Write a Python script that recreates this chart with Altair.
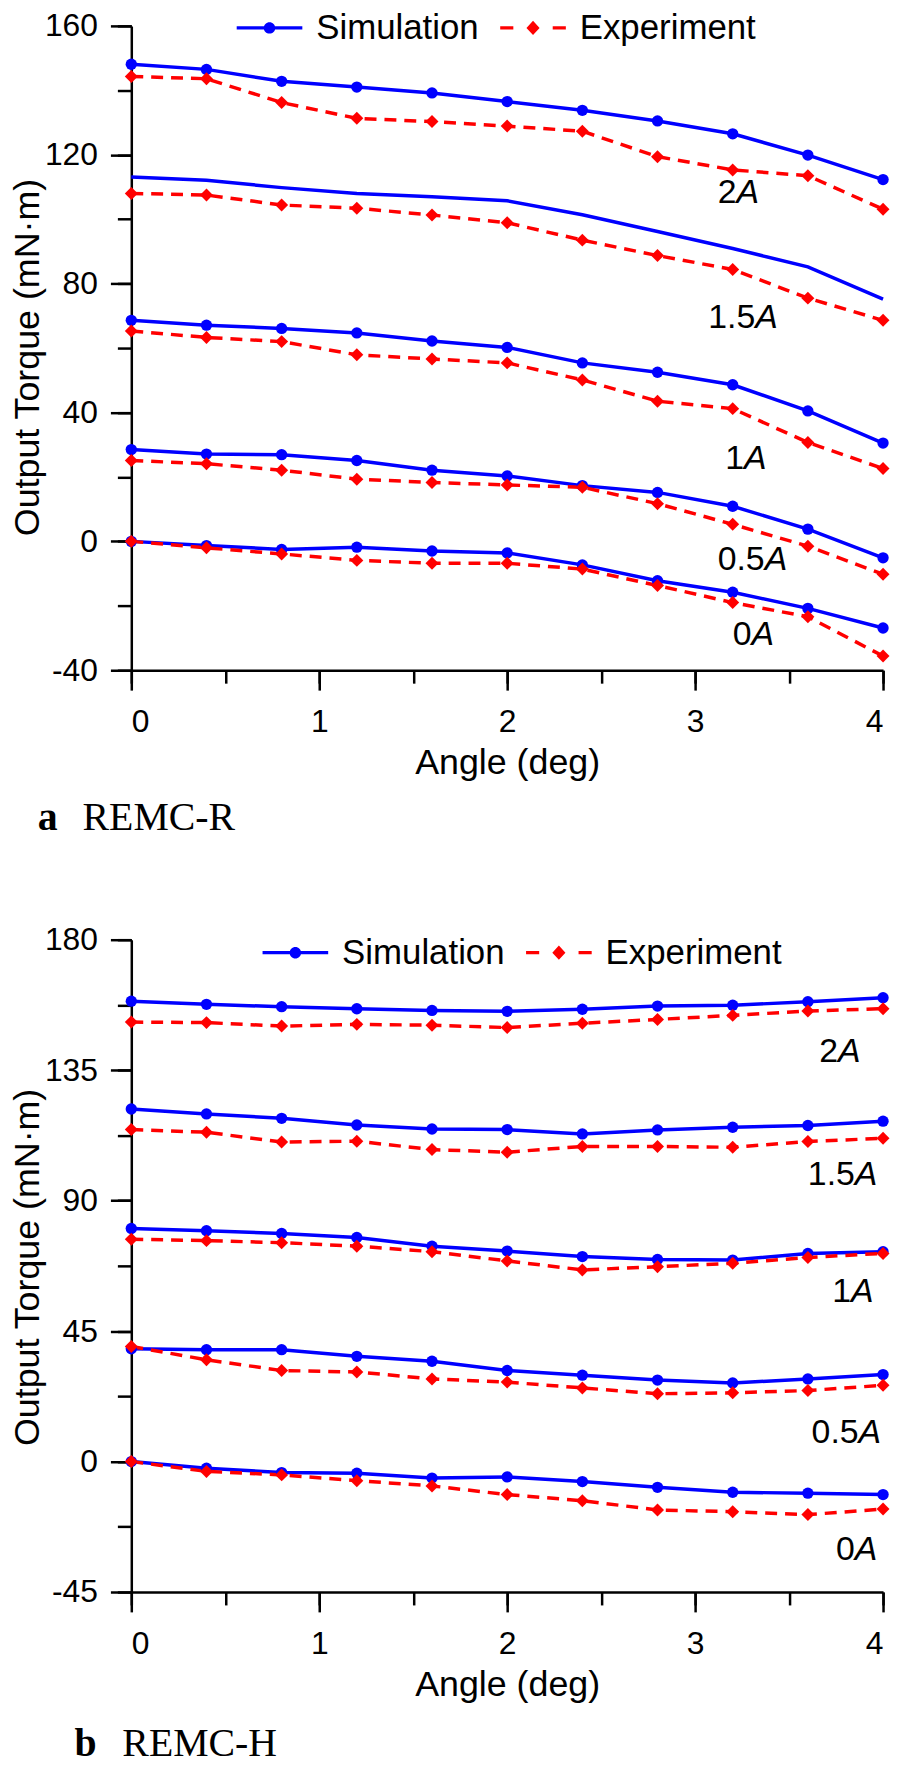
import altair as alt
import pandas as pd

ANGLES = [0.0, 0.4, 0.8, 1.2, 1.6, 2.0, 2.4, 2.8, 3.2, 3.6, 4.0]
CURRENTS = ["2", "1.5", "1", "0.5", "0"]
SERIES = ["Simulation", "Experiment"]
SERIES_COLORS = ["#0000ff", "#ff0000"]

# ---- a  REMC-R ----
R_SIM_2 = [148.1, 146.5, 142.8, 141.0, 139.2, 136.5, 133.8, 130.5, 126.5, 119.9, 112.3]
R_EXP_2 = [144.3, 143.6, 136.2, 131.3, 130.3, 128.9, 127.3, 119.4, 115.3, 113.5, 103.1]
R_SIM_15 = [113.1, 112.1, 109.8, 108.0, 107.0, 105.7, 101.4, 96.2, 90.9, 85.2, 75.2]
R_EXP_15 = [108.0, 107.5, 104.4, 103.4, 101.3, 98.9, 93.5, 88.7, 84.4, 75.5, 68.6]
R_SIM_1 = [68.6, 67.1, 66.1, 64.7, 62.2, 60.2, 55.4, 52.5, 48.6, 40.5, 30.5]
R_EXP_1 = [65.3, 63.3, 62.0, 57.9, 56.6, 55.4, 50.1, 43.5, 41.2, 30.7, 22.6]
R_SIM_05 = [28.5, 27.1, 26.9, 25.1, 22.1, 20.3, 17.3, 15.2, 10.9, 3.8, -5.1]
R_EXP_05 = [25.1, 24.1, 22.1, 19.3, 18.3, 17.5, 16.8, 11.7, 5.3, -1.5, -10.2]
R_SIM_0 = [0.0, -1.3, -2.5, -1.8, -3.0, -3.6, -7.3, -12.2, -15.8, -20.8, -26.9]
R_EXP_0 = [0.0, -2.0, -3.9, -5.9, -6.8, -6.8, -8.6, -13.7, -19.0, -23.4, -35.6]
R_NO_MARKER = ["1.5"]  # simulation curve drawn without markers
R_LABEL_X = [3.22, 3.32, 3.26, 3.37, 3.30]
R_LABEL_Y = [108.0, 69.2, 25.4, -5.9, -29.0]

# ---- b  REMC-H ----
H_SIM_2 = [158.8, 157.7, 156.9, 156.2, 155.6, 155.3, 156.0, 157.1, 157.4, 158.6, 160.0]
H_EXP_2 = [151.6, 151.4, 150.2, 150.8, 150.5, 149.7, 151.2, 152.5, 153.9, 155.4, 156.2]
H_SIM_15 = [121.6, 119.9, 118.4, 116.1, 114.7, 114.5, 113.0, 114.4, 115.3, 115.9, 117.4]
H_EXP_15 = [114.5, 113.6, 110.2, 110.5, 107.6, 106.7, 108.7, 108.7, 108.4, 110.4, 111.5]
H_SIM_1 = [80.4, 79.6, 78.7, 77.3, 74.3, 72.6, 70.7, 69.7, 69.5, 71.8, 72.4]
H_EXP_1 = [76.7, 76.2, 75.5, 74.3, 72.4, 69.2, 66.1, 67.2, 68.4, 70.4, 71.8]
H_SIM_05 = [38.9, 38.6, 38.6, 36.3, 34.6, 31.4, 29.8, 28.1, 27.1, 28.5, 30.0]
H_EXP_05 = [39.7, 35.1, 31.4, 30.9, 28.5, 27.4, 25.4, 23.4, 23.7, 24.5, 26.3]
H_SIM_0 = [0.0, -2.3, -3.8, -4.0, -5.7, -5.3, -6.9, -8.9, -10.6, -10.9, -11.4]
H_EXP_0 = [0.0, -3.4, -4.6, -6.6, -8.4, -11.4, -13.5, -16.7, -17.3, -18.3, -16.4]
H_NO_MARKER = []
H_LABEL_X = [3.76, 3.85, 3.83, 3.87, 3.85]
H_LABEL_Y = [141.4, 98.7, 58.6, 10.0, -30.4]

X_MAJOR = [0, 1, 2, 3, 4]
X_MINOR = [0, 0.5, 1, 1.5, 2, 2.5, 3, 3.5, 4]
R_Y_MAJOR = [-40, 0, 40, 80, 120, 160]
R_Y_MINOR = [-40, -20, 0, 20, 40, 60, 80, 100, 120, 140, 160]
H_Y_MAJOR = [-45, 0, 45, 90, 135, 180]
H_Y_MINOR = [-45, -22.5, 0, 22.5, 45, 67.5, 90, 112.5, 135, 157.5, 180]

SANS = "Liberation Sans"
SERIF = "Liberation Serif"

SIM_PATH = ("M-1,-0.05L1,-0.05L1,0.05L-1,0.05Z "
            "M0.175,0A0.175,0.175,0,1,1,-0.175,0A0.175,0.175,0,1,1,0.175,0Z")
EXP_PATH = ("M-1,-0.05L-0.6,-0.05L-0.6,0.05L-1,0.05Z "
            "M0.6,-0.05L1,-0.05L1,0.05L0.6,0.05Z "
            "M0,-0.22L0.2,0L0,0.22L-0.2,0Z")

color_scale = alt.Scale(domain=SERIES, range=SERIES_COLORS)
legend_shape_scale = alt.Scale(domain=SERIES, range=[SIM_PATH, EXP_PATH])


def build_df(sims, exps, no_marker):
    rows = []
    for cur, sim, exp in zip(CURRENTS, sims, exps):
        for a, s, e in zip(ANGLES, sim, exp):
            rows.append(dict(angle=a, torque=s, series="Simulation", current=cur,
                             marker=cur not in no_marker))
            rows.append(dict(angle=a, torque=e, series="Experiment", current=cur,
                             marker=True))
    return pd.DataFrame(rows)


def panel(df, lab_x, lab_y, ydom, ymaj, ymin, legx, legy, title_y, height,
          letter, name, letter_x, name_x, cap_y):
    xs = alt.Scale(domain=[0, 4], nice=False, zero=False)
    ys = alt.Scale(domain=ydom, nice=False, zero=False)
    base = alt.Chart(df)

    sim_line = base.transform_filter("datum.series === 'Simulation'").mark_line(
        strokeWidth=3.5, color=SERIES_COLORS[0]
    ).encode(
        x=alt.X("angle:Q", scale=xs, axis=alt.Axis(
            values=X_MAJOR, tickSize=20, title="Angle (deg)", labelPadding=17,
            titlePadding=8, orient="bottom")),
        y=alt.Y("torque:Q", scale=ys, axis=alt.Axis(
            values=ymaj, tickSize=21, title="Output Torque  (mN·m)", labelPadding=13,
            titleX=-93, titleY=title_y, titleBaseline="alphabetic", titleAngle=270,
            titleAlign="center", labelExpr="'' + datum.value", orient="left")),
        detail="current:N",
    )
    exp_line = base.transform_filter("datum.series === 'Experiment'").mark_line(
        strokeWidth=3.5, color=SERIES_COLORS[1], strokeDash=[12, 8]
    ).encode(
        x=alt.X("angle:Q", scale=xs, axis=None),
        y=alt.Y("torque:Q", scale=ys, axis=None),
        detail="current:N",
    )
    sim_pts = base.transform_filter(
        "datum.series === 'Simulation' && datum.marker"
    ).mark_point(filled=True, shape="circle", size=130, opacity=1,
                 color=SERIES_COLORS[0]).encode(
        x=alt.X("angle:Q", scale=xs, axis=alt.Axis(
            values=X_MINOR, tickSize=13, labels=False, title=None, domain=False,
            orient="bottom")),
        y=alt.Y("torque:Q", scale=ys, axis=alt.Axis(
            values=ymin, tickSize=14, labels=False, title=None, domain=False,
            orient="left")),
    )
    exp_pts = base.transform_filter(
        "datum.series === 'Experiment'"
    ).mark_point(filled=True, shape="diamond", size=170, opacity=1,
                 color=SERIES_COLORS[1]).encode(
        x=alt.X("angle:Q", scale=xs, axis=None),
        y=alt.Y("torque:Q", scale=ys, axis=None),
    )
    leg = dict(orient="none", legendX=legx, legendY=legy, direction="horizontal",
               title=None, labelFont=SANS, labelFontSize=35, labelColor="black",
               labelLimit=400, symbolSize=4356, symbolStrokeWidth=0, labelOffset=14,
               columnPadding=21, padding=0)
    legend_layer = base.transform_filter("false").mark_point(filled=True, opacity=1).encode(
        color=alt.Color("series:N", scale=color_scale, legend=alt.Legend(**leg)),
        shape=alt.Shape("series:N", scale=legend_shape_scale, legend=alt.Legend(**leg)),
    )

    lab_df = pd.DataFrame({"lx": lab_x, "ly": lab_y, "num": CURRENTS,
                           "unit": ["A"] * len(CURRENTS)})
    lab_num = alt.Chart(lab_df).mark_text(
        align="right", baseline="middle", font=SANS, fontSize=34, color="black"
    ).encode(x=alt.X("lx:Q", scale=xs, axis=None),
             y=alt.Y("ly:Q", scale=ys, axis=None), text="num:N")
    lab_unit = alt.Chart(lab_df).mark_text(
        align="left", baseline="middle", font=SANS, fontSize=34, fontStyle="italic",
        color="black"
    ).encode(x=alt.X("lx:Q", scale=xs, axis=None),
             y=alt.Y("ly:Q", scale=ys, axis=None), text="unit:N")

    cap_df = pd.DataFrame({"letter": [letter], "name": [name]})
    cap_letter = alt.Chart(cap_df).mark_text(
        align="left", baseline="alphabetic", font=SERIF, fontSize=40,
        fontWeight="bold", color="black"
    ).encode(x=alt.value(letter_x), y=alt.value(cap_y), text="letter:N")
    cap_name = alt.Chart(cap_df).mark_text(
        align="left", baseline="alphabetic", font=SERIF, fontSize=40, color="black"
    ).encode(x=alt.value(name_x), y=alt.value(cap_y), text="name:N")

    return alt.layer(
        sim_line, exp_line, sim_pts, exp_pts, lab_num, lab_unit, legend_layer,
        cap_letter, cap_name
    ).resolve_axis(x="independent", y="independent").properties(width=756, height=height)


df_r = build_df([R_SIM_2, R_SIM_15, R_SIM_1, R_SIM_05, R_SIM_0],
                [R_EXP_2, R_EXP_15, R_EXP_1, R_EXP_05, R_EXP_0], R_NO_MARKER)
df_h = build_df([H_SIM_2, H_SIM_15, H_SIM_1, H_SIM_05, H_SIM_0],
                [H_EXP_2, H_EXP_15, H_EXP_1, H_EXP_05, H_EXP_0], H_NO_MARKER)

top = panel(df_r, R_LABEL_X, R_LABEL_Y, [-40, 160], R_Y_MAJOR, R_Y_MINOR, 106, -31,
            333, 648, "a", "REMC-R", -94, -49, 809)
bottom = panel(df_h, H_LABEL_X, H_LABEL_Y, [-45, 180], H_Y_MAJOR, H_Y_MINOR, 132, -20,
               329, 656, "b", "REMC-H", -57, -9, 821)

chart = alt.vconcat(top, bottom, spacing=82).resolve_scale(
    color="independent", shape="independent"
).resolve_legend(
    color="independent", shape="independent"
).properties(
    padding={"left": 2, "top": -18, "right": 0, "bottom": 0}
).configure_view(stroke=None).configure_axis(
    grid=False, domainColor="black", domainWidth=2.5, tickColor="black", tickWidth=2.5,
    labelFont=SANS, labelFontSize=32, labelColor="black",
    titleFont=SANS, titleFontSize=36, titleFontWeight="normal", titleColor="black",
)

chart.save("out.html", embed_options={"renderer": "svg", "actions": False})
